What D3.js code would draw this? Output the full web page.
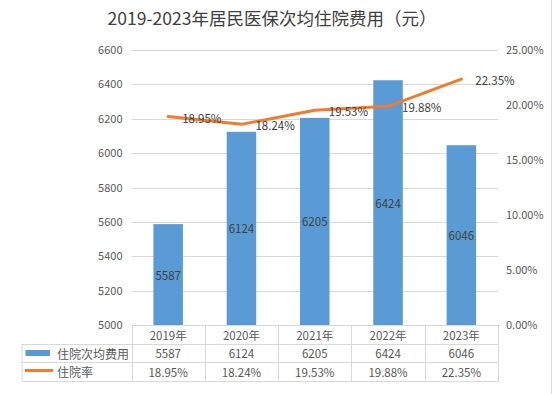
<!DOCTYPE html>
<html>
<head>
<meta charset="utf-8">
<script src="https://cdn.jsdelivr.net/npm/d3@7"></script>
<style>
  body { margin: 0; background: #fff; }
  svg text { font-family: "Noto Sans CJK SC", "Noto Sans", sans-serif; }
</style>
</head>
<body>
<div id="chart"></div>
<script>
// data
const years = ["2019年", "2020年", "2021年", "2022年", "2023年"]
const costs = [5587, 6124, 6205, 6424, 6046]
const rates = [18.95, 18.24, 19.53, 19.88, 22.35]
const costTicks = [5000, 5200, 5400, 5600, 5800, 6000, 6200, 6400, 6600]
const rateTicks = [0, 5, 10, 15, 20, 25]

const width = 553
const height = 394
const plot = { left: 131.5, right: 498, top: 50, bottom: 325 }
const blue = "#5B9BD5"
const orange = "#ED7D31"
const grid = "#D9D9D9"
const textColor = "#595959"

const svg = d3.select("#chart").append("svg")
  .attr("width", width)
  .attr("height", height)

// title
svg.append("text")
  .attr("x", 272).attr("y", 25)
  .attr("text-anchor", "middle")
  .attr("font-size", 17.5)
  .attr("fill", "#404040")
  .text("2019-2023年居民医保次均住院费用（元）")

const x = d3.scaleBand().domain(years).range([plot.left, plot.right])
const yL = d3.scaleLinear().domain([5000, 6600]).range([plot.bottom, plot.top])
const yR = d3.scaleLinear().domain([0, 25]).range([plot.bottom, plot.top])

// gridlines
svg.append("g").selectAll("line")
  .data(costTicks.slice(1))
  .enter().append("line")
  .attr("x1", plot.left).attr("x2", plot.right)
  .attr("y1", d => Math.round(yL(d)) + 0.5)
  .attr("y2", d => Math.round(yL(d)) + 0.5)
  .attr("stroke", grid).attr("stroke-width", 1)

// left axis
const leftAxis = svg.append("g")
  .attr("transform", `translate(${plot.left - 9},0)`)
  .call(d3.axisLeft(yL).tickValues(costTicks).tickSize(0).tickPadding(0)
    .tickFormat(d3.format("d")))
leftAxis.select(".domain").remove()
leftAxis.selectAll("text").attr("font-size", 11).attr("fill", textColor)

// right axis
const rightAxis = svg.append("g")
  .attr("transform", `translate(${plot.right + 8},0)`)
  .call(d3.axisRight(yR).tickValues(rateTicks).tickSize(0).tickPadding(0)
    .tickFormat(d => d3.format(".2f")(d) + "%"))
rightAxis.select(".domain").remove()
rightAxis.selectAll("text").attr("font-size", 11).attr("fill", textColor)

// bars
const barW = 29.5
svg.append("g").selectAll("rect")
  .data(costs)
  .enter().append("rect")
  .attr("x", (d, i) => x(years[i]) + x.bandwidth() / 2 - barW / 2)
  .attr("width", barW)
  .attr("y", d => yL(d))
  .attr("height", d => plot.bottom - yL(d))
  .attr("fill", blue)

svg.append("g").selectAll("text")
  .data(costs)
  .enter().append("text")
  .attr("x", (d, i) => x(years[i]) + x.bandwidth() / 2)
  .attr("y", d => (yL(d) + plot.bottom) / 2)
  .attr("text-anchor", "middle")
  .attr("dominant-baseline", "central")
  .attr("font-size", 11.5)
  .attr("fill", "#404040")
  .text(d => d)

// rate line
const line = d3.line()
  .x((d, i) => x(years[i]) + x.bandwidth() / 2)
  .y(d => yR(d))

svg.append("path")
  .datum(rates)
  .attr("d", line)
  .attr("fill", "none")
  .attr("stroke", orange)
  .attr("stroke-width", 3)
  .attr("stroke-linejoin", "round")
  .attr("stroke-linecap", "round")

svg.append("g").selectAll("text")
  .data(rates)
  .enter().append("text")
  .attr("x", (d, i) => x(years[i]) + x.bandwidth() / 2 + 14)
  .attr("y", d => yR(d) + 1)
  .attr("dominant-baseline", "central")
  .attr("font-size", 11.5)
  .attr("fill", "#404040")
  .text(d => d.toFixed(2) + "%")

// data table under the axis
const rowY = [325, 343.5, 362, 380.5]
const tableLeft = 21.5
const table = svg.append("g")
  .attr("stroke", grid).attr("stroke-width", 1).attr("fill", "none")

// horizontal rules
table.append("line")
  .attr("x1", plot.left).attr("x2", plot.right)
  .attr("y1", rowY[0] + 0.5).attr("y2", rowY[0] + 0.5)
rowY.slice(1).forEach(function(yy) {
  table.append("line")
    .attr("x1", tableLeft).attr("x2", plot.right)
    .attr("y1", Math.round(yy) + 0.5).attr("y2", Math.round(yy) + 0.5)
})
// vertical rules
const colEdges = years.map(d => x(d)).concat([plot.right])
colEdges.forEach(function(xx) {
  table.append("line")
    .attr("x1", Math.round(xx) + 0.5).attr("x2", Math.round(xx) + 0.5)
    .attr("y1", rowY[0]).attr("y2", Math.round(rowY[3]) + 0.5)
})
table.append("line")
  .attr("x1", tableLeft + 0.5).attr("x2", tableLeft + 0.5)
  .attr("y1", Math.round(rowY[1]) + 0.5).attr("y2", Math.round(rowY[3]) + 0.5)

// category row
svg.append("g").selectAll("text")
  .data(years)
  .enter().append("text")
  .attr("x", d => x(d) + x.bandwidth() / 2)
  .attr("y", (rowY[0] + rowY[1]) / 2 + 0.5)
  .attr("text-anchor", "middle")
  .attr("dominant-baseline", "central")
  .attr("font-size", 11.5)
  .attr("fill", textColor)
  .text(d => d)

// value rows
const tableRows = [
  costs.map(d => String(d)),
  rates.map(d => d.toFixed(2) + "%")
]
tableRows.forEach(function(row, r) {
  svg.append("g").selectAll("text")
    .data(row)
    .enter().append("text")
    .attr("x", (d, i) => x(years[i]) + x.bandwidth() / 2)
    .attr("y", (rowY[r + 1] + rowY[r + 2]) / 2 + 0.5)
    .attr("text-anchor", "middle")
    .attr("dominant-baseline", "central")
    .attr("font-size", 11.5)
    .attr("fill", textColor)
    .text(d => d)
})

// legend keys inside the table
svg.append("rect")
  .attr("x", 25.5).attr("y", 350)
  .attr("width", 24.5).attr("height", 6)
  .attr("fill", blue)
svg.append("line")
  .attr("x1", 25).attr("x2", 53)
  .attr("y1", 370.5).attr("y2", 370.5)
  .attr("stroke", orange).attr("stroke-width", 3)

const legendNames = ["住院次均费用", "住院率"]
svg.append("g").selectAll("text")
  .data(legendNames)
  .enter().append("text")
  .attr("x", 57)
  .attr("y", (d, i) => (rowY[i + 1] + rowY[i + 2]) / 2 + 0.5)
  .attr("dominant-baseline", "central")
  .attr("font-size", 12)
  .attr("fill", textColor)
  .text(d => d)

// chart border on the right
svg.append("line")
  .attr("x1", 551.5).attr("x2", 551.5)
  .attr("y1", 0).attr("y2", height)
  .attr("stroke", grid)
</script>
</body>
</html>
